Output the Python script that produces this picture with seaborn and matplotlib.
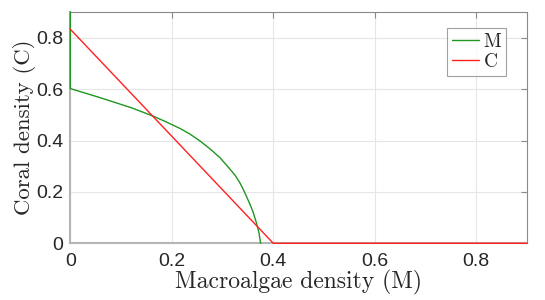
import numpy as np
import pandas as pd
import matplotlib
matplotlib.use("Agg")
import matplotlib.pyplot as plt
import seaborn as sns

# Data
M_green = [0.0, 0.0, 0.055, 0.121, 0.163, 0.186, 0.216, 0.235, 0.255, 0.275, 0.295,
           0.314, 0.325, 0.334, 0.341, 0.347, 0.354, 0.360, 0.367, 0.372, 0.375]
C_green = [0.9, 0.602, 0.569, 0.527, 0.495, 0.475, 0.447, 0.426, 0.399, 0.368, 0.333,
           0.290, 0.264, 0.236, 0.209, 0.183, 0.152, 0.123, 0.078, 0.039, 0.0]
M_red = [0.0, 0.4, 0.9]
C_red = [0.833, 0.0, 0.0]
x_ticks = [0, 0.2, 0.4, 0.6, 0.8]
y_ticks = [0, 0.2, 0.4, 0.6, 0.8]
x_tick_labels = ["0", "0.2", "0.4", "0.6", "0.8"]
y_tick_labels = ["0", "0.2", "0.4", "0.6", "0.8"]

sns.set_theme(style="white")
plt.rcParams['font.family'] = ['Liberation Sans', 'DejaVu Sans']

fig = plt.figure(figsize=(5.45, 3.0), dpi=100)
ax = fig.add_axes([0.129, 0.189, 0.838, 0.771])

df_g = pd.DataFrame({"M": M_green, "C": C_green})
df_r = pd.DataFrame({"M": M_red, "C": C_red})
green = "#1f961f"
red = "#ff2020"
sns.lineplot(data=df_g, x="M", y="C", sort=False, estimator=None, color=green,
             lw=1.0, ax=ax, label="M", clip_on=False, zorder=3)
sns.lineplot(data=df_r, x="M", y="C", sort=False, estimator=None, color=red,
             lw=1.0, ax=ax, label="C", clip_on=False, zorder=4)

ax.set_xlim(0, 0.9)
ax.set_ylim(0, 0.9)
ax.set_xticks(x_ticks)
ax.set_xticklabels(x_tick_labels)
ax.set_yticks(y_ticks)
ax.set_yticklabels(y_tick_labels)
ax.grid(True, color="#e6e6e6", lw=0.8)
ax.set_axisbelow(True)

for s in ["top", "right"]:
    ax.spines[s].set_color("#8a8a8a")
    ax.spines[s].set_linewidth(0.8)
for s in ["left", "bottom"]:
    ax.spines[s].set_color("#b5b5b5")
    ax.spines[s].set_linewidth(1.5)
    ax.spines[s].set_zorder(1)

ax.tick_params(axis="both", direction="in", length=4, width=0.8, color="#8a8a8a",
               labelsize=14, labelcolor="#262626", top=True, right=True)
ax.tick_params(axis="x", pad=7)
ax.tick_params(axis="y", pad=5)

ax.set_xlabel("Macroalgae density (M)", family="cmr10", fontsize=17, labelpad=0,
              color="#262626")
ax.set_ylabel("Coral density (C)", family="cmr10", fontsize=16.5, labelpad=0,
              color="#262626")

leg = ax.legend(loc="upper right", bbox_to_anchor=(0.955, 0.93), prop={"family": "cmr10", "size": 14},
                frameon=True, fancybox=False, edgecolor="#8a8a8a", handlelength=1.4,
                handletextpad=0.25, borderpad=0.25, labelspacing=0.1, borderaxespad=0)
leg.get_frame().set_linewidth(0.8)

fig.savefig("out.png", dpi=100)
